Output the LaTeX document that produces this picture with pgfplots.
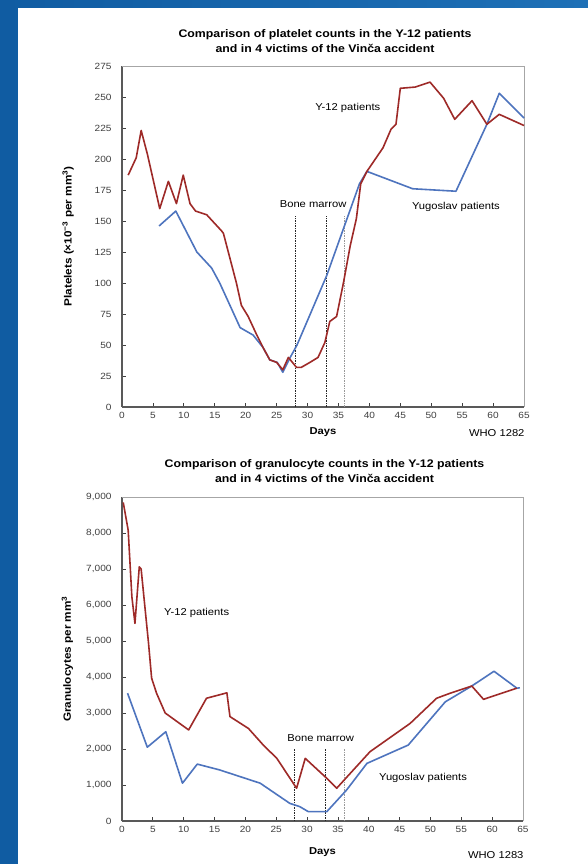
\documentclass[border=0pt]{standalone}
\usepackage{fontspec}
\setmainfont{Liberation Sans}[FakeStretch=1.12]
\usepackage{pgfplots}
\pgfplotsset{compat=1.18}
\definecolor{yred}{RGB}{158,42,40}
\definecolor{yblue}{RGB}{78,116,190}
\definecolor{bgblue}{RGB}{16,92,162}
\definecolor{bgblue2}{RGB}{30,112,182}
\pgfplotsset{
  common/.style={
    scale only axis, clip=false,
    xmin=0, xmax=65, xtick={0,5,...,65},
    axis x line*=bottom, axis y line*=left,
    tick align=inside, major tick length=4pt,
    tick style={black!75, line width=0.8pt},
    axis line style={black!65, line width=1.3pt},
    ticklabel style={font=\fontsize{9}{10}\selectfont, text=black!75},
    /pgf/number format/assume math mode=true,
    scaled y ticks=false,
    xticklabel style={yshift=-2pt},
    yticklabel style={xshift=-7pt},
    every axis plot/.append style={line width=1.6pt, line join=round},
    xlabel={Days},
    xlabel style={anchor=center, font=\bfseries\fontsize{10}{12}\selectfont},
    ylabel style={anchor=center, font=\bfseries\fontsize{10.5}{12}\selectfont},
  },
  marrow/.style={line width=0.9pt, dash pattern=on 1.5pt off 1pt},
}
\newcommand{\annot}{\fontsize{10}{12}\selectfont}
\begin{document}
\begin{tikzpicture}
\path[use as bounding box] (0pt,0pt) rectangle (588pt,864pt);
\shade[left color=bgblue, right color=bgblue2] (0pt,0pt) rectangle (588pt,864pt);
\fill[white] (18pt,0pt) rectangle (588pt,856pt);

% ---------- Platelets ----------
\begin{axis}[common,
  at={(122pt,457pt)}, anchor=south west,
  width=402pt, height=341pt,
  ymin=0, ymax=275, ytick={0,25,...,275},
  ylabel={Platelets (×10\textsuperscript{−3} per mm\textsuperscript{3})},
  ylabel style={at={(axis description cs:-0.134,0.5)}},
  xlabel style={at={(axis description cs:0.5,-0.075)}},
]
\draw[black!35, line width=0.9pt] (rel axis cs:0,1) -- (rel axis cs:1,1) -- (rel axis cs:1,0);
\addplot[marrow, black!85] coordinates {(28,0) (28,154)};
\addplot[marrow, black!85] coordinates {(33,0) (33,154)};
\addplot[marrow, black!40] coordinates {(36,0) (36,154)};
% Yugoslav patients
\addplot[yblue] coordinates {
(6,146) (8.7,158) (12.1,125) (14.5,112) (15.8,100) (19.1,64) (21.2,58) (22.8,48)
(23.9,38) (25.1,36) (26,28) (27.2,40) (28.3,50) (33.1,106) (38.4,180) (39.6,190)
(47,176) (54,174) (59,228) (61,253) (65,233)};
% Y-12 patients
\addplot[yred] coordinates {
(1,187) (2.3,201) (3.1,223) (4.1,204) (6.1,160) (7.5,182) (8.8,164) (9.9,187)
(11,164) (11.9,158) (13.7,155) (16.1,142) (16.4,140) (18.5,100) (19.3,82) (20.4,73)
(21.8,58) (22.8,48) (23.9,38) (25,36) (26,30) (26.9,40) (28.2,32) (29,32) (30.4,36)
(31.7,40) (32.8,52) (33.6,69) (34.7,73) (35.8,100) (36.9,130) (37.9,152) (38.6,180)
(39.6,190) (42.2,209) (43.5,224) (44.3,228) (45,257) (47.4,258) (49.8,262) (52,249)
(53.8,232) (56.6,247) (59,228) (61,236) (65,227)};
\node[font=\annot] at (axis cs:36.5,241.5) {Y-12 patients};
\node[font=\annot] at (axis cs:54,161) {Yugoslav patients};
\node[font=\annot] at (axis cs:30.9,164) {Bone marrow};
\node[font=\annot, anchor=east] at (axis description cs:1.01,-0.075) {WHO 1282};
\node[font=\bfseries\fontsize{11}{15}\selectfont, align=center] at (axis description cs:0.505,1.072)
  {Comparison of platelet counts in the Y-12 patients\\and in 4 victims of the Vinča accident};
\end{axis}

% ---------- Granulocytes ----------
\begin{axis}[common,
  at={(122pt,43pt)}, anchor=south west,
  width=401pt, height=324pt,
  ymin=0, ymax=9000, ytick={0,1000,...,9000},
  yticklabel style={/pgf/number format/1000 sep={,}},
  ylabel={Granulocytes per mm\textsuperscript{3}},
  ylabel style={at={(axis description cs:-0.136,0.5)}},
  xlabel style={at={(axis description cs:0.5,-0.096)}},
]
\draw[black!35, line width=0.9pt] (rel axis cs:0,1) -- (rel axis cs:1,1) -- (rel axis cs:1,0);
\addplot[marrow, black!85] coordinates {(28,0) (28,2000)};
\addplot[marrow, black!85] coordinates {(33,0) (33,2000)};
\addplot[marrow, black!40] coordinates {(36,0) (36,2000)};
% Yugoslav patients
\addplot[yblue] coordinates {
(0.9,3550) (4.1,2050) (7.1,2480) (9.8,1050) (12.2,1580) (15.8,1420) (22.4,1050)
(27.2,490) (28.8,400) (30.2,260) (33.2,260) (36.4,860) (39.7,1600) (46.4,2110)
(52.4,3310) (56.7,3750) (60.3,4160) (64,3690) (64.5,3700)};
% Y-12 patients
\addplot[yred] coordinates {
(0.2,8850) (1,8080) (1.6,6230) (2.1,5490) (2.8,7060) (3.1,7000) (4.3,4940) (4.8,3970)
(5.6,3550) (7,3000) (10.8,2530) (13.7,3410) (17,3560) (17.5,2900) (20.5,2570)
(22.9,2110) (25.1,1740) (28.3,910) (29.7,1740) (33.2,1185) (34.8,910) (40.2,1925)
(46.7,2710) (51,3410) (53.2,3550) (56.7,3750) (58.6,3380) (64,3690)};
\node[font=\annot] at (axis cs:12.1,5770) {Y-12 patients};
\node[font=\annot] at (axis cs:48.8,1190) {Yugoslav patients};
\node[font=\annot] at (axis cs:32.2,2300) {Bone marrow};
\node[font=\annot, anchor=east] at (axis description cs:1.01,-0.105) {WHO 1283};
\node[font=\bfseries\fontsize{11}{15}\selectfont, align=center] at (axis description cs:0.505,1.079)
  {Comparison of granulocyte counts in the Y-12 patients\\and in 4 victims of the Vinča accident};
\end{axis}
\end{tikzpicture}
\end{document}
